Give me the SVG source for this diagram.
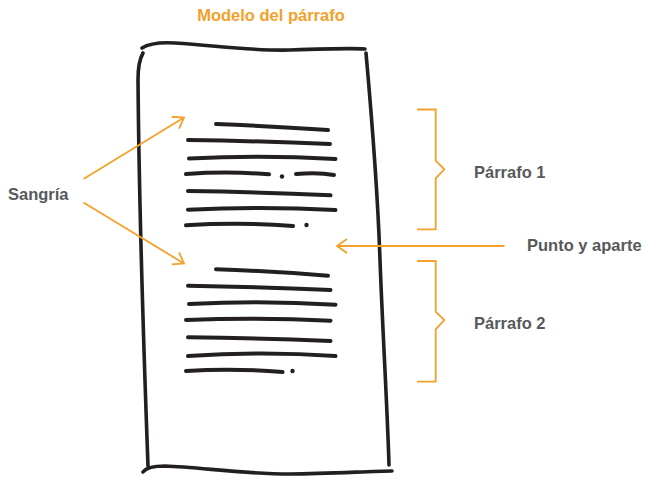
<svg xmlns="http://www.w3.org/2000/svg" width="651" height="477" viewBox="0 0 651 477">
<style>
.ink{fill:none;stroke:#231f20;stroke-width:4;stroke-linecap:round;stroke-linejoin:round}
.page{fill:none;stroke:#231f20;stroke-width:3.6;stroke-linecap:round}
.dot{fill:#231f20}
.or{fill:none;stroke:#f5a02a;stroke-width:1.8}
.lbl{font-family:"Liberation Sans",Arial,sans-serif;font-weight:bold;font-size:16.5px;fill:#58595b}
.ttl{font-family:"Liberation Sans",Arial,sans-serif;font-weight:bold;font-size:16.5px;fill:#f5a02a}
</style>
<defs>
<marker id="ah" viewBox="-12 -8 14 16" markerWidth="14" markerHeight="16" refX="0" refY="0" orient="auto" markerUnits="userSpaceOnUse">
<path d="M-10,-7 L0,0 L-10,7" fill="none" stroke="#f5a02a" stroke-width="1.8"/>
</marker>
</defs>
<text class="ttl" x="271" y="21" text-anchor="middle">Modelo del párrafo</text>
<g id="page">
<path class="page" d="M142,48 C150,43 160,42 175,43 C220,46 250,51 290,50 C320,49 350,48 365,49"/>
<path class="page" d="M366,53 C372,120 378,200 380,260 C383,340 387,400 389,465"/>
<path class="page" d="M143,53 C139,60 138,70 138,80 C139,200 143,330 148,466"/>
<path class="page" d="M143,472 C146,468 152,466 165,466 C200,467 240,474 290,474 C330,474 370,471 392,471"/>
</g>
<g id="parrafo1-lines">
<path class="ink" d="M216,124 Q270,126 328,130"/>
<path class="ink" d="M188,140 Q260,141 330,144"/>
<path class="ink" d="M189,158.5 Q262,155 335.5,159"/>
<path class="ink" d="M186,174 Q228,171 269,174.3"/>
<circle class="dot" cx="282" cy="176.5" r="2.2"/>
<path class="ink" d="M296,174 Q318,172 334,175"/>
<path class="ink" d="M188,191 Q260,192 330.5,195.3"/>
<path class="ink" d="M188,209.7 Q262,206 335.5,210"/>
<path class="ink" d="M186,225.3 Q240,222 293,226"/>
<circle class="dot" cx="306.5" cy="225" r="2.2"/>
</g>
<g id="parrafo2-lines">
<path class="ink" d="M216,269.3 Q270,271 328,275.7"/>
<path class="ink" d="M188,285.7 Q260,287 330.5,290"/>
<path class="ink" d="M189,304 Q262,300 335.5,304.7"/>
<path class="ink" d="M186,320 Q258,317 330.5,320.7"/>
<path class="ink" d="M188,337.3 Q260,338 330.5,341"/>
<path class="ink" d="M188,356 Q262,351 335.5,356"/>
<path class="ink" d="M186,371 Q234,368 282.5,372"/>
<circle class="dot" cx="292.5" cy="371" r="2.2"/>
</g>
<g id="connectors">
<line class="or" x1="83.5" y1="179" x2="184" y2="117.5" marker-end="url(#ah)"/>
<line class="or" x1="83.5" y1="202.5" x2="184" y2="263.5" marker-end="url(#ah)"/>
<line class="or" x1="504.5" y1="246" x2="337" y2="246" marker-end="url(#ah)"/>
</g>
<g id="bracket1">
<path class="or" d="M417,109.5 H435.7 V160.7 L444.3,169.3 L435.7,178.3 V229.3 H417"/>
</g>
<g id="bracket2">
<path class="or" d="M417,261 H435.7 V311.7 L444.3,320 L435.7,329.3 V381.7 H417"/>
</g>
<g id="labels">
<text class="lbl" x="8" y="200">Sangría</text>
<text class="lbl" x="474" y="177.5">Párrafo 1</text>
<text class="lbl" x="474" y="328.5">Párrafo 2</text>
<text class="lbl" x="527" y="251">Punto y aparte</text>
</g>
</svg>
